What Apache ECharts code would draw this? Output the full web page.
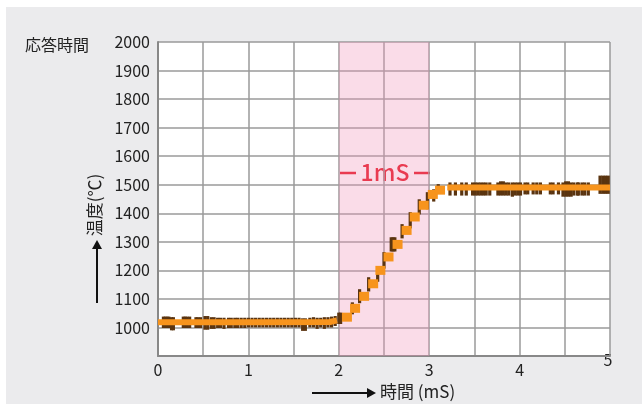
<!DOCTYPE html>
<html lang="ja">
<head>
    <meta charset="UTF-8">
    <title>応答時間</title>
    <style>
        body {
            margin: 0;
            background: #fff;
        }
        #panel {
            position: absolute;
            left: 6px;
            top: 7px;
            width: 636px;
            height: 397px;
            background: #ebebed;
        }
        #main {
            position: absolute;
            left: 0;
            top: 0;
            width: 642px;
            height: 407px;
        }
    </style>
</head>
<body>
<div id="panel"></div>
<div id="main"></div>
<script src="https://cdn.jsdelivr.net/npm/echarts@6/dist/echarts.min.js"></script>
<script>
    // 低温側の平坦部 (ms, ℃)
    var lowLine = [[0, 1018], [1.0, 1018], [1.9, 1019], [1.98, 1025]];
    // 立ち上がり部の測定点
    var risePoints = [
        [2.09, 1036], [2.18, 1067], [2.28, 1109], [2.38, 1153], [2.46, 1200], [2.55, 1247],
        [2.65, 1291], [2.75, 1340], [2.84, 1387], [2.94, 1428], [3.04, 1466], [3.12, 1481]
    ];
    // 高温側の平坦部
    var highLine = [[3.2, 1490], [5, 1490]];
    // ばらつき (ms, 下限, 上限)
    var noiseTicks = [
        [0.06, 998, 1038], [0.08, 998, 1038], [0.10, 998, 1038], [0.12, 998, 1038],
        [0.15, 990, 1036], [0.17, 990, 1036], [0.28, 998, 1038], [0.30, 998, 1038],
        [0.32, 998, 1038], [0.35, 998, 1038], [0.42, 998, 1036], [0.44, 998, 1036],
        [0.47, 998, 1036], [0.52, 992, 1040], [0.55, 992, 1040], [0.59, 995, 1036],
        [0.62, 995, 1036], [0.66, 998, 1034], [0.69, 998, 1034], [0.73, 995, 1034],
        [0.78, 998, 1034], [0.81, 998, 1034], [0.85, 998, 1034], [0.88, 998, 1034],
        [0.92, 998, 1034], [0.96, 998, 1034], [1.00, 1000, 1034], [1.04, 1000, 1034],
        [1.08, 1000, 1034], [1.12, 1000, 1034], [1.16, 1000, 1034], [1.20, 1000, 1034],
        [1.24, 1000, 1034], [1.28, 1000, 1034], [1.32, 1000, 1034], [1.36, 1000, 1034],
        [1.40, 1000, 1034], [1.44, 1000, 1034], [1.48, 1000, 1034], [1.52, 1000, 1034],
        [1.56, 1000, 1034], [1.60, 988, 1032], [1.63, 988, 1032], [1.68, 1000, 1034],
        [1.72, 1000, 1036], [1.76, 995, 1034], [1.80, 1000, 1034], [1.84, 995, 1036],
        [1.88, 1000, 1036], [1.92, 1000, 1038], [1.96, 1005, 1040],
        [2.00, 1012, 1052], [2.02, 1012, 1052], [2.15, 1046, 1088], [2.23, 1085, 1134],
        [2.33, 1126, 1176], [2.43, 1160, 1214], [2.50, 1206, 1264], [2.58, 1266, 1316],
        [2.60, 1266, 1316], [2.62, 1266, 1316], [2.70, 1312, 1362], [2.79, 1347, 1404],
        [2.89, 1396, 1449], [2.98, 1414, 1474], [3.05, 1441, 1484], [3.10, 1470, 1502],
        [3.23, 1462, 1508], [3.29, 1462, 1508], [3.36, 1462, 1508], [3.41, 1462, 1508],
        [3.48, 1462, 1508], [3.51, 1462, 1508], [3.54, 1462, 1508], [3.57, 1462, 1508],
        [3.60, 1462, 1508], [3.63, 1462, 1508], [3.67, 1462, 1508], [3.76, 1462, 1508],
        [3.79, 1462, 1512], [3.82, 1462, 1512], [3.85, 1462, 1508], [3.88, 1462, 1508],
        [3.92, 1458, 1508], [3.95, 1462, 1508], [3.98, 1462, 1508], [4.01, 1462, 1508],
        [4.06, 1466, 1508], [4.09, 1466, 1508], [4.15, 1466, 1508], [4.19, 1466, 1508],
        [4.23, 1466, 1508], [4.34, 1466, 1508], [4.37, 1466, 1508], [4.43, 1466, 1508],
        [4.48, 1458, 1508], [4.51, 1458, 1512], [4.54, 1458, 1512], [4.57, 1458, 1508],
        [4.60, 1462, 1508], [4.64, 1462, 1508], [4.65, 1462, 1508], [4.69, 1462, 1508],
        [4.72, 1462, 1508], [4.76, 1462, 1508], [4.89, 1468, 1532], [4.92, 1468, 1532],
        [4.95, 1468, 1532], [4.98, 1468, 1532]
    ];
    var xTicks = [0, 1, 2, 3, 4];
    var yTicks = [1000, 1100, 1200, 1300, 1400, 1500, 1600, 1700, 1800, 1900, 2000];
    var band = [2, 3];

    var orange = '#f7941d';
    var brown = '#5a3410';
    var red = '#e60f1e';
    var font = '"Noto Sans CJK JP", "Noto Sans", sans-serif';

    var renderTick = function (params, api) {
        var top = api.coord([api.value(0), api.value(2)]);
        var bot = api.coord([api.value(0), api.value(1)]);
        return {
            type: 'rect',
            shape: {x: top[0] - 1.6, y: top[1], width: 3.2, height: bot[1] - top[1]},
            style: {fill: brown}
        };
    };

    var option = {
        animation: false,
        grid: {
            left: 158,
            top: 42,
            width: 452,
            height: 314,
            show: true,
            backgroundColor: '#fff',
            borderWidth: 0
        },
        xAxis: {
            type: 'value',
            min: 0,
            max: 5,
            interval: 0.5,
            axisLine: {lineStyle: {color: '#888', width: 2}},
            axisTick: {show: false},
            axisLabel: {
                color: '#222',
                fontFamily: font,
                fontSize: 16,
                margin: 6,
                formatter: function (v) {
                    return xTicks.indexOf(v) >= 0 ? String(v) : '';
                }
            },
            splitLine: {lineStyle: {color: '#9a9a9a', width: 1.5}}
        },
        yAxis: {
            type: 'value',
            min: 900,
            max: 2000,
            interval: 100,
            axisLine: {show: true, lineStyle: {color: '#888', width: 2}},
            axisTick: {show: false},
            axisLabel: {
                color: '#222',
                fontFamily: font,
                fontSize: 16,
                margin: 8,
                formatter: function (v) {
                    return yTicks.indexOf(v) >= 0 ? String(v) : '';
                }
            },
            splitLine: {lineStyle: {color: '#9a9a9a', width: 1.5}}
        },
        series: [
            {
                type: 'custom',
                renderItem: renderTick,
                encode: {x: 0, y: [1, 2]},
                z: 2,
                data: noiseTicks,
                markArea: {
                    silent: true,
                    itemStyle: {color: 'rgba(240,150,185,0.33)'},
                    data: [[{xAxis: band[0]}, {xAxis: band[1]}]]
                }
            },
            {
                type: 'line',
                data: lowLine,
                symbol: 'none',
                z: 3,
                lineStyle: {color: orange, width: 6}
            },
            {
                type: 'line',
                data: highLine,
                symbol: 'none',
                z: 3,
                lineStyle: {color: orange, width: 6}
            },
            {
                type: 'scatter',
                data: risePoints,
                symbol: 'rect',
                symbolSize: [10, 9],
                z: 3,
                itemStyle: {color: orange, opacity: 1}
            }
        ],
        graphic: [
            {
                type: 'text', left: 25, top: 37,
                style: {text: '応答時間', font: '16px ' + font, fill: '#222'}
            },
            {
                type: 'text', x: 608, y: 352,
                style: {text: '5', font: '16px ' + font, fill: '#222', align: 'center'}
            },
            {
                type: 'text', x: 95, y: 205, rotation: Math.PI / 2,
                style: {text: '温度(℃)', font: '17px ' + font, fill: '#222',
                    align: 'center', verticalAlign: 'middle'}
            },
            {
                type: 'line', shape: {x1: 97, y1: 303, x2: 97, y2: 248},
                style: {stroke: '#111', lineWidth: 2}
            },
            {
                type: 'polygon', shape: {points: [[92, 249], [102, 249], [97, 240]]},
                style: {fill: '#111'}
            },
            {
                type: 'line', shape: {x1: 312, y1: 393, x2: 368, y2: 393},
                style: {stroke: '#111', lineWidth: 2}
            },
            {
                type: 'polygon', shape: {points: [[367, 388], [367, 398], [376, 393]]},
                style: {fill: '#111'}
            },
            {
                type: 'text', x: 380, y: 392,
                style: {text: '時間 (mS)', font: '17px ' + font, fill: '#222', verticalAlign: 'middle'}
            },
            {
                type: 'text', x: 385, y: 172,
                style: {text: '1mS', font: '500 23px ' + font, fill: red,
                    align: 'center', verticalAlign: 'middle'}
            },
            {
                type: 'line', shape: {x1: 340, y1: 173, x2: 356, y2: 173},
                style: {stroke: red, lineWidth: 2.5}
            },
            {
                type: 'line', shape: {x1: 414, y1: 173, x2: 430, y2: 173},
                style: {stroke: red, lineWidth: 2.5}
            }
        ]
    };

    var myChart = echarts.init(document.getElementById('main'));
    myChart.setOption(option);
</script>
</body>
</html>
